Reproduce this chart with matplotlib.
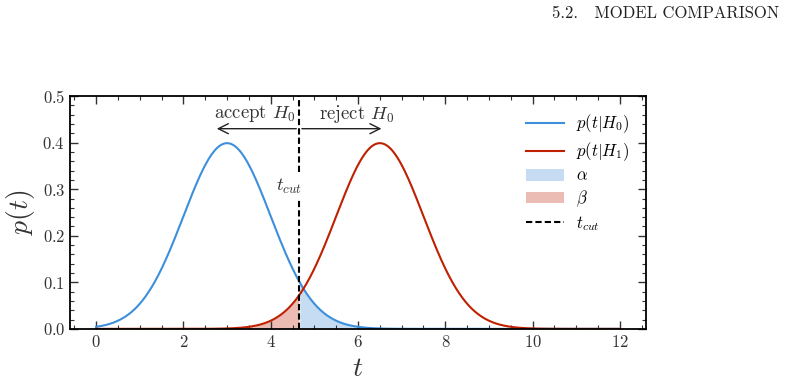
import numpy as np
import matplotlib.pyplot as plt
from matplotlib.ticker import MultipleLocator

plt.rcParams['mathtext.fontset'] = 'cm'
plt.rcParams['font.family'] = 'serif'
plt.rcParams['font.serif'] = ['cmr10', 'DejaVu Serif']
plt.rcParams['axes.formatter.use_mathtext'] = True

# model parameters
means = [3.0, 6.5]      # H0, H1
sigmas = [1.0, 1.0]
t_cut = 4.65
labels = [r'$p(t|H_0)$', r'$p(t|H_1)$']
colors = ['#3d8fdc', '#bf2000']
fills = ['#c5dcf2', '#ebbcb4']

t = np.linspace(0, 12, 600)


def gauss(x, mu, s):
    return np.exp(-0.5 * ((x - mu) / s) ** 2) / (s * np.sqrt(2 * np.pi))


p0 = gauss(t, means[0], sigmas[0])
p1 = gauss(t, means[1], sigmas[1])

fig = plt.figure(figsize=(7.86, 3.86), dpi=100)
ax = fig.add_axes([0.089, 0.148, 0.733, 0.603])

ax.plot(t, p0, color=colors[0], lw=1.5, label=labels[0])
ax.plot(t, p1, color=colors[1], lw=1.5, label=labels[1])
ax.fill_between(t, 0, p0, where=t >= t_cut, color=fills[0], lw=0, label=r'$\alpha$')
ax.fill_between(t, 0, p1, where=t <= t_cut, color=fills[1], lw=0, label=r'$\beta$')
# cut line, broken where the label sits
ax.plot([t_cut, t_cut], [0, 0.28], color='black', lw=1.5, dashes=(3, 1.5), label=r'$t_{cut}$')
ax.plot([t_cut, t_cut], [0.337, 0.5], color='black', lw=1.5, dashes=(3, 1.5))

# arrows and labels
ax.annotate('', xy=(2.7, 0.43), xytext=(t_cut, 0.43),
            arrowprops=dict(arrowstyle='->', lw=1.0, color='#222222', mutation_scale=18))
ax.annotate('', xy=(6.6, 0.43), xytext=(t_cut, 0.43),
            arrowprops=dict(arrowstyle='->', lw=1.0, color='#222222', mutation_scale=18))
ax.text(t_cut - 0.08, 0.462, r'accept $H_0$', ha='right', va='center', fontsize=13.5, color='#333333')
ax.text(t_cut + 0.45, 0.462, r'reject $H_0$', ha='left', va='center', fontsize=13.5, color='#333333')
ax.text(t_cut - 0.22, 0.305, r'$t_{cut}$', ha='center', va='center', fontsize=13.5, color='#333333')

ax.set_xlim(-0.6, 12.6)
ax.set_ylim(0, 0.5)
ax.xaxis.set_major_locator(MultipleLocator(2))
ax.xaxis.set_minor_locator(MultipleLocator(0.5))
ax.yaxis.set_major_locator(MultipleLocator(0.1))
ax.yaxis.set_minor_locator(MultipleLocator(0.02))
ax.tick_params(which='both', direction='in', top=True, right=True, labelsize=12, colors='#333333')
ax.tick_params(which='major', length=6, width=1)
ax.tick_params(which='minor', length=3, width=0.8)
for sp in ax.spines.values():
    sp.set_linewidth(1.3)
ax.set_xlabel(r'$t$', fontsize=20, color='#333333')
ax.set_ylabel(r'$p(t)$', fontsize=20, color='#333333')

ax.legend(loc='upper right', frameon=False, fontsize=12, handlelength=2.3,
          handletextpad=0.7, labelspacing=0.3, borderaxespad=0.6)

fig.text(0.992, 0.965, '5.2.   MODEL COMPARISON', ha='right', va='center', fontsize=12, color='#222222')

fig.savefig('out.png', dpi=100)
